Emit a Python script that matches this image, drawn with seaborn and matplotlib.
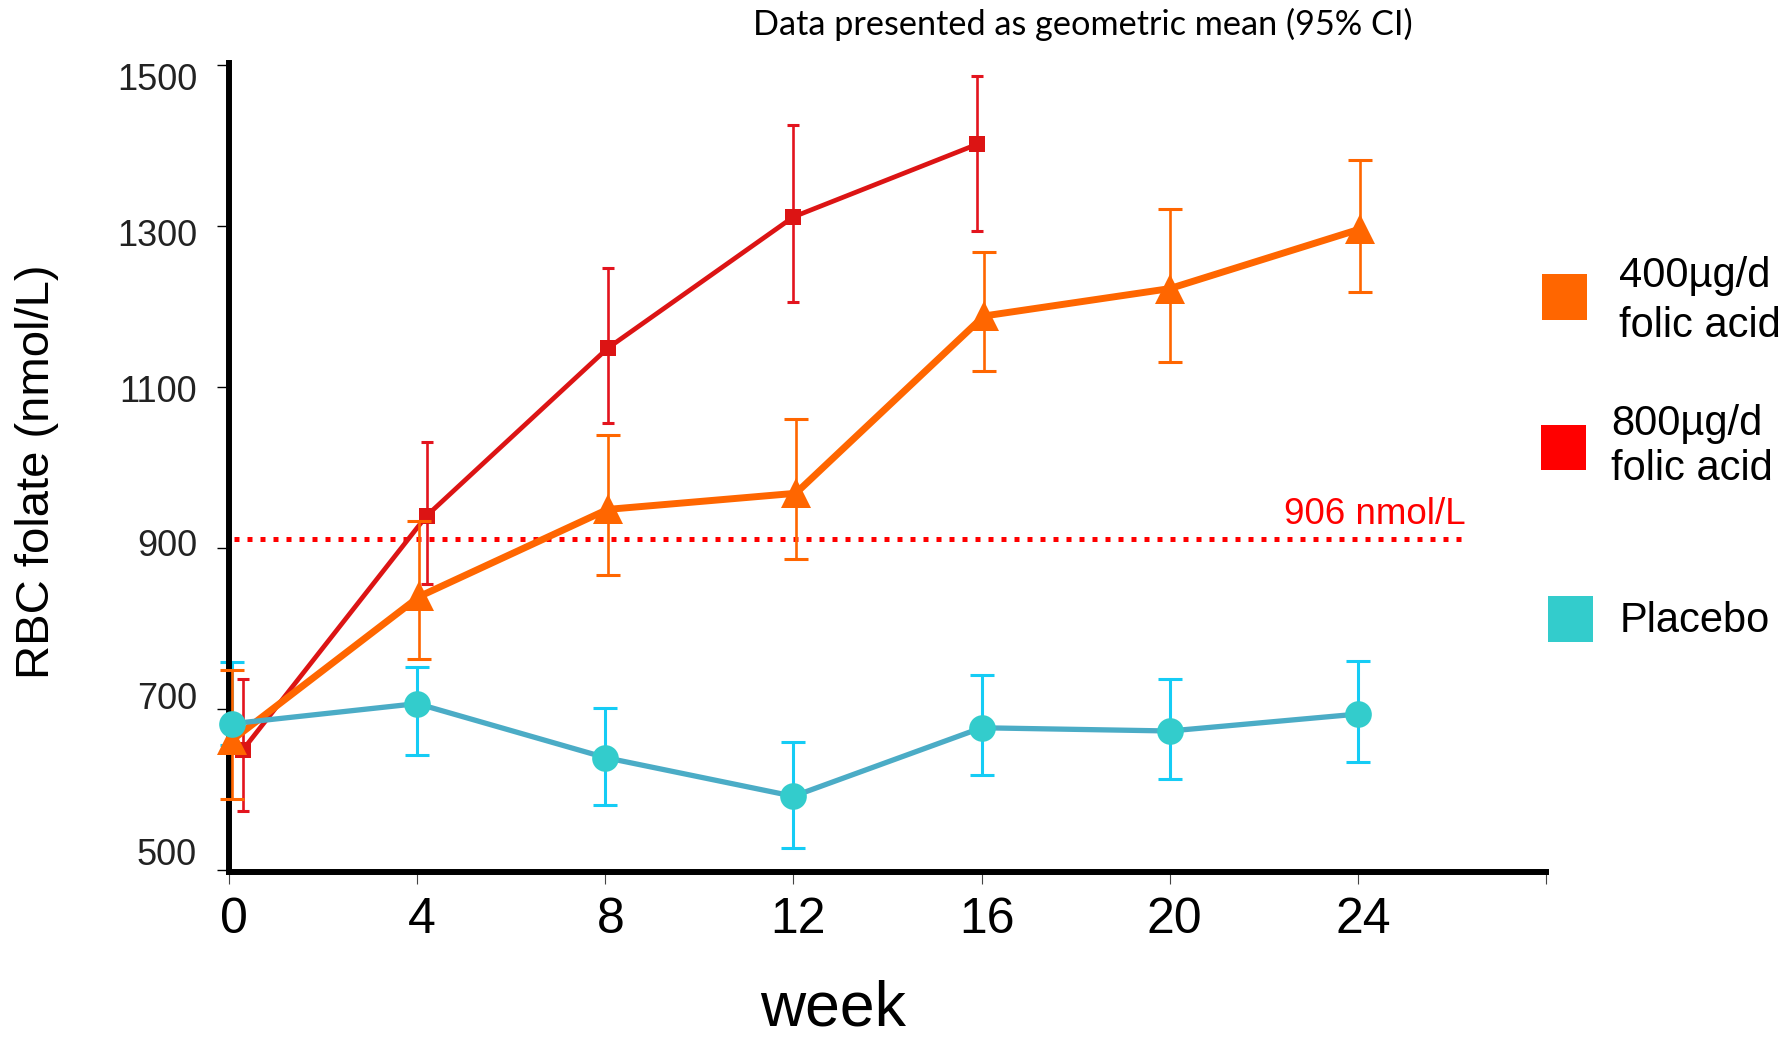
import numpy as np
import pandas as pd
import seaborn as sns
import matplotlib
matplotlib.use("Agg")
import matplotlib.pyplot as plt
from matplotlib.transforms import ScaledTranslation
from matplotlib.patches import Rectangle

# ---------------- data ----------------
week_ticks = [0, 4, 8, 12, 16, 20, 24, 28]
week_tick_labels = ["0", "4", "8", "12", "16", "20", "24", ""]
y_ticks = [500, 700, 900, 1100, 1300, 1500]
y_tick_labels = ["500", "700", "900", "1100", "1300", "1500"]

# 400 ug/d folic acid (orange triangles)
f400_weeks = [0.07, 4.05, 8.05, 12.05, 16.05, 20.0, 24.05]
f400_mean = [662, 840, 948, 968, 1188, 1222, 1296]
f400_lo = [589, 762, 867, 887, 1120, 1131, 1218]
f400_hi = [749, 933, 1040, 1060, 1267, 1321, 1382]

# 800 ug/d folic acid (red squares)
f800_weeks = [0.3, 4.2, 8.05, 12.0, 15.9]
f800_mean = [650, 940, 1148, 1311, 1401]
f800_lo = [574, 855, 1055, 1206, 1293]
f800_hi = [738, 1032, 1248, 1425, 1486]

# Placebo (teal circles)
plac_weeks = [0.06, 4.0, 8.0, 12.0, 16.0, 20.0, 24.0]
plac_mean = [682, 707, 640, 592, 677, 673, 694]
plac_lo = [655, 643, 581, 528, 618, 613, 635]
plac_hi = [758, 753, 701, 659, 743, 738, 760]

threshold_label = "906 nmol/L"
threshold_y = 911
threshold_span = (0.1, 26.2)

legend_labels = [["400µg/d", "folic acid"], ["800µg/d", "folic acid"], ["Placebo"]]
title_text = "Data presented as geometric mean (95% CI)"

# ---------------- style ----------------
sns.set_theme(style="white")
plt.rcParams["font.family"] = ["Liberation Sans", "DejaVu Sans"]

W, H = 1792, 1040
fig = plt.figure(figsize=(W / 100, H / 100), dpi=100)
ax = fig.add_axes([229 / W, 1 - 872 / H, (1546 - 229) / W, (872 - 63) / H])

ORANGE = "#FF6600"
RED_LINE = "#DC1414"
RED_BAR = "#E3141E"
CYAN_BAR = "#15CCF5"
PLAC_LINE = "#4BACC6"
PLAC_MARK = "#33CCCC"


def yerr(mean, lo, hi):
    m = np.asarray(mean)
    return [m - np.asarray(lo), np.asarray(hi) - m]


# placebo error bars (bottom layer)
ax.errorbar(plac_weeks, plac_mean, yerr=yerr(plac_mean, plac_lo, plac_hi), fmt="none",
            ecolor=CYAN_BAR, elinewidth=2.2, capsize=8.3, capthick=2.2, zorder=2, clip_on=False)

# 800 ug/d
ax.errorbar(f800_weeks, f800_mean, yerr=yerr(f800_mean, f800_lo, f800_hi), fmt="none",
            ecolor=RED_BAR, elinewidth=1.9, capsize=4.6, capthick=2.2, zorder=3, clip_on=False)
sns.lineplot(x=f800_weeks, y=f800_mean, ax=ax, color=RED_LINE, lw=3.4, marker="s",
             markersize=11.5, markeredgewidth=0, markerfacecolor=RED_LINE, zorder=4,
             clip_on=False, legend=False)

# 400 ug/d
ax.errorbar(f400_weeks, f400_mean, yerr=yerr(f400_mean, f400_lo, f400_hi), fmt="none",
            ecolor=ORANGE, elinewidth=1.9, capsize=8.3, capthick=2.2, zorder=5, clip_on=False)
sns.lineplot(x=f400_weeks, y=f400_mean, ax=ax, color=ORANGE, lw=5, marker="^",
             markersize=22, markeredgewidth=0, markerfacecolor=ORANGE, zorder=6,
             clip_on=False, legend=False)

# placebo line
sns.lineplot(x=plac_weeks, y=plac_mean, ax=ax, color=PLAC_LINE, lw=3.8, marker="o",
             markersize=19.2, markeredgewidth=0, markerfacecolor=PLAC_MARK, zorder=7,
             clip_on=False, legend=False)

# threshold line
ax.hlines(threshold_y, threshold_span[0], threshold_span[1], colors="#FF0000",
          linestyles=(0, (1, 1.6)), lw=3.6, zorder=1)
ax.text(26.3, 930, threshold_label, ha="right", va="baseline", color="#FF0000", fontsize=26.5)

# axes
ax.set_xlim(0, 28)
ax.set_ylim(498, 1502)
ax.set_xticks(week_ticks, labels=week_tick_labels)
ax.set_yticks(y_ticks, labels=y_tick_labels)
ax.set_xlabel("")
ax.set_ylabel("")
sns.despine(ax=ax)
for side in ["left", "bottom"]:
    ax.spines[side].set_linewidth(4.3)
    ax.spines[side].set_color("black")
ax.tick_params(axis="x", bottom=True, length=8.6, width=0.8, color="#444444",
               pad=9.7, labelsize=36, labelcolor="black", direction="out")
ax.tick_params(axis="y", left=True, length=8.6, width=1.0, color="black",
               pad=14.4, labelsize=26, labelcolor="#222222", direction="out")
ax.grid(False)

# y tick labels in the reference are slightly compressed relative to the ticks
ylabel_offsets_px = [19, 14, 6, -2, -7, -12]  # positive = move up
for lbl, off in zip(ax.get_yticklabels(), ylabel_offsets_px):
    lbl.set_transform(lbl.get_transform() + ScaledTranslation(0, off / 100, fig.dpi_scale_trans))
for lbl in ax.get_xticklabels():
    lbl.set_transform(lbl.get_transform() + ScaledTranslation(5 / 100, 0, fig.dpi_scale_trans))

# axis titles
fig.text(37 / W, 1 - 472 / H, "RBC folate (nmol/L)", rotation=90, ha="center", va="center",
         fontsize=34, color="black")
fig.text(833 / W, 1 - 1026 / H, "week", ha="center", va="baseline", fontsize=45, color="black")

# title (fit to reference width)
t = fig.text(753 / W, 1 - 35 / H, title_text, ha="left", va="baseline",
             family=["Lato", "DejaVu Sans"], fontsize=22, color="black")
fig.canvas.draw()
bb = t.get_window_extent()
t.set_fontsize(22 * 659 / bb.width)

# legend (manual, to match layout)
legend_colors = [ORANGE, "#FF0000", PLAC_MARK]
legend_boxes = [(1542, 274, 45, 46), (1541, 425, 45, 45), (1548, 596, 45, 46)]
legend_text_pos = [[(1619, 286.7), (1619, 336.7)], [(1611, 435), (1611, 480)], [(1620, 631.7)]]
for col, (x0, y0, w, h), lines, poss in zip(legend_colors, legend_boxes, legend_labels, legend_text_pos):
    fig.add_artist(Rectangle((x0 / W, 1 - (y0 + h) / H), w / W, h / H,
                             transform=fig.transFigure, facecolor=col, edgecolor="none"))
    for txt, (tx, ty) in zip(lines, poss):
        fig.text(tx / W, 1 - ty / H, txt, ha="left", va="baseline", fontsize=30, color="black")

fig.savefig("out.png", dpi=100)
